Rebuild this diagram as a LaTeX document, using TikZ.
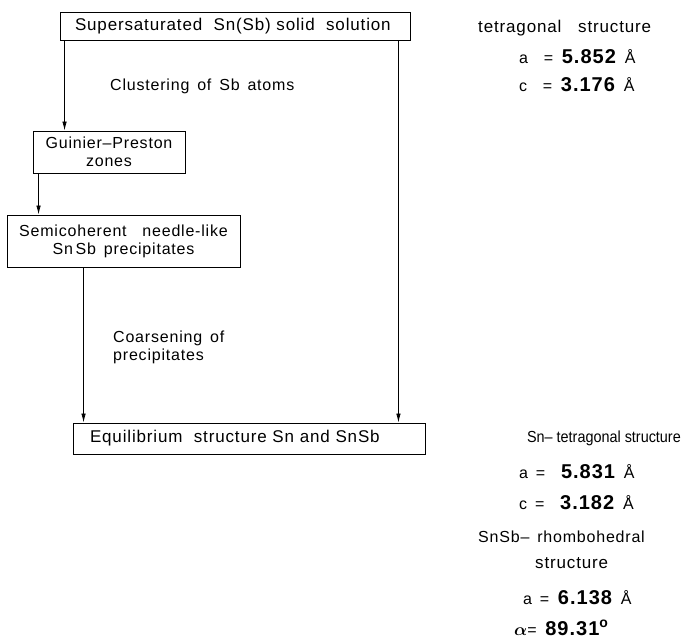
\documentclass[tikz,border=0pt]{standalone}
\usepackage{fontspec}
\usepackage{amsmath, amssymb}
\setmainfont{Liberation Sans}[LetterSpace=5, WordSpace=1.5]
\newfontfamily\plainsf{Liberation Sans}[Ligatures=TeX, FakeStretch=0.9]
\usepackage{tikz}
\usetikzlibrary{positioning, arrows.meta, calc}
\newcommand{\num}[1]{\textbf{\fontsize{20}{20}\selectfont #1}}

\begin{document}
\begin{tikzpicture}[x=1pt, y=-1pt,
        every node/.style={font=\fontsize{16}{18}\selectfont, inner sep=2pt},
        stage/.style={rectangle, draw=black, line width=0.9pt, align=center},
        wide/.style={align=left, inner ysep=0pt, text width=#1, font=\fontsize{17}{18}\selectfont},
        lbl/.style={align=left, anchor=west},
        val/.style={anchor=west},
        arr/.style={-{Latex[length=9pt, width=4.5pt]}, line width=0.8pt}]
      \useasboundingbox (0,0) rectangle (682,642);
      % process stages
      \node[stage, wide=320pt, inner xsep=15pt, minimum height=28pt] (super) at (235,26)
        {Supersaturated\ \ Sn(Sb) solid\ \ solution};
      \node[stage, minimum width=152pt, minimum height=42pt, inner sep=0pt] (gp) at (109,152)
        {Guinier--Preston\\zones};
      \node[stage, minimum width=233pt, minimum height=52pt, inner sep=0pt] (semi) at (123.5,241)
        {Semicoherent\ \ needle-like\\Sn\,Sb precipitates};
      \node[stage, wide=318pt, inner xsep=17pt, minimum height=31pt] (eq) at (249,438.5)
        {Equilibrium\ \ structure Sn\ and SnSb};
      % connectors
      \draw[arr] ([xshift=5pt]super.south west) -- ([xshift=5pt]super.south west |- gp.north);
      \draw[arr] ([xshift=6pt]gp.south west) -- ([xshift=6pt]gp.south west |- semi.north);
      \draw[arr] ([xshift=77pt]semi.south west) -- ([xshift=77pt]semi.south west |- eq.north);
      \draw[arr] ([xshift=-12pt]super.south east) -- ([xshift=-12pt]super.south east |- eq.north);
      % transformation labels
      \node[lbl] (clus) at (108,86) {Clustering of Sb atoms};
      \node[lbl] (coars) at (111,347) {Coarsening\ of\\precipitates};
      % lattice data, supersaturated phase
      \node[lbl, font=\fontsize{17}{18}\selectfont] (tet1) at (476,28) {tetragonal\ \ structure};
      \node[val] (a1) at (517,57) {a\ \ = \num{5.852} Å};
      \node[val] (c1) at (517,85) {c\ \ = \num{3.176} Å};
      % lattice data, equilibrium phases
      \node[anchor=east, inner sep=1pt, font=\plainsf\fontsize{16}{18}\selectfont] (tet2) at (682,438) {Sn– tetragonal structure};
      \node[val] (a2) at (517,472) {a =\ \ \num{5.831} Å};
      \node[val] (c2) at (517,503) {c =\ \ \num{3.182} Å};
      \node[lbl] (rho) at (476,537) {SnSb– rhombohedral};
      \node[lbl, font=\fontsize{17}{18}\selectfont] (rhost) at (533,563) {structure};
      \node[val] (a3) at (521,598) {a = \num{6.138} Å};
      \node[val] (alp) at (512,628) {\fontsize{19}{20}\selectfont$\boldsymbol{\alpha}$\fontsize{16}{18}\selectfont= \num{89.31\textsuperscript{o}}};
    \end{tikzpicture}
\end{document}
